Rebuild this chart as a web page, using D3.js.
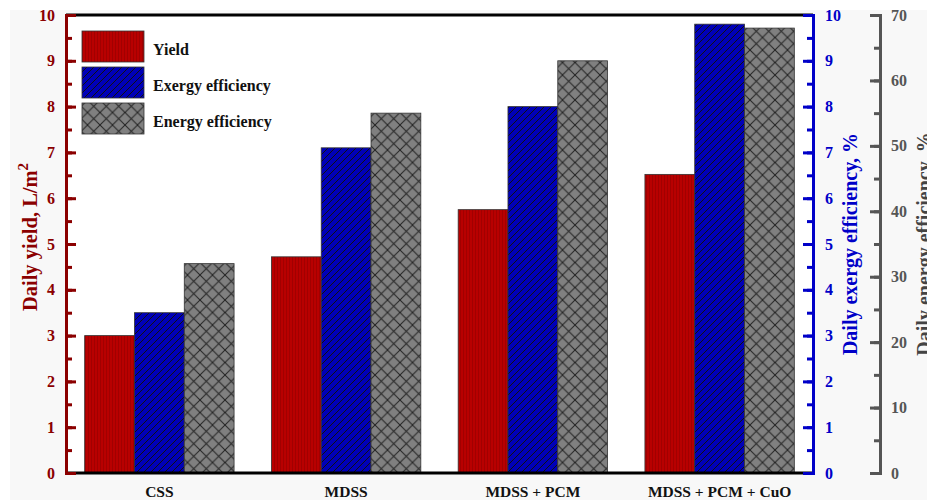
<!DOCTYPE html>
<html lang="en">
  <head>
    <meta charset="UTF-8" />
    <title>daily yield and efficiency</title>
    <style>
      body {
        margin: 0;
        background: #fff;
      }
      svg text {
        font-family: "Liberation Serif", "Times New Roman", serif;
        font-weight: bold;
      }
    </style>
  </head>
  <body>
    <div class="container"></div>

    <script src="https://cdn.jsdelivr.net/npm/d3@7"></script>
    <script>
      // data
      const categories = ["CSS", "MDSS", "MDSS + PCM", "MDSS + PCM + CuO"];
      const yieldVals = [3.0, 4.72, 5.75, 6.52]; // L/m2
      const exergyVals = [3.5, 7.1, 8.0, 9.8]; // %
      const energyVals = [32, 55, 63, 68]; // %
      const seriesNames = ["Yield", "Exergy efficiency", "Energy efficiency"];
      const yieldTicks = d3.range(0, 11, 1);
      const exergyTicks = d3.range(0, 11, 1);
      const energyTicks = d3.range(0, 71, 10);

      const W = 927,
        H = 500;
      const mLeft = 66,
        mRight = 813,
        mTop = 15,
        mBottom = 473;

      const svg = d3
        .select(".container")
        .append("svg")
        .attr("width", W)
        .attr("height", H);

      // background
      svg.append("rect").attr("x", 10).attr("y", 10).attr("width", W - 10).attr("height", H - 10).attr("fill", "#f8f8f8");
      svg.append("rect").attr("x", mLeft).attr("y", mTop).attr("width", mRight - mLeft).attr("height", mBottom - mTop).attr("fill", "#fff");

      // patterns
      const defs = svg.append("defs");
      const pRed = defs.append("pattern").attr("id", "pRed").attr("patternUnits", "userSpaceOnUse").attr("width", 3).attr("height", 3);
      pRed.append("rect").attr("width", 3).attr("height", 3).attr("fill", "#b80000");
      pRed.append("line").attr("x1", 1.5).attr("x2", 1.5).attr("y1", 0).attr("y2", 3).attr("stroke", "#9a0000").attr("stroke-width", 0.8);

      const pBlue = defs.append("pattern").attr("id", "pBlue").attr("patternUnits", "userSpaceOnUse").attr("width", 7).attr("height", 7);
      pBlue.append("rect").attr("width", 7).attr("height", 7).attr("fill", "#0000b8");
      pBlue.append("path").attr("d", "M0,7 L7,0 M-1,1 L1,-1 M6,8 L8,6").attr("stroke", "#111").attr("stroke-width", 1);

      const g = 12.5;
      const pGray = defs.append("pattern").attr("id", "pGray").attr("patternUnits", "userSpaceOnUse").attr("width", g).attr("height", g);
      pGray.append("rect").attr("width", g).attr("height", g).attr("fill", "#808080");
      pGray
        .append("path")
        .attr("d", `M0,0 L${g},${g} M0,${g} L${g},0`)
        .attr("stroke", "#222")
        .attr("stroke-width", 1);

      const fills = ["url(#pRed)", "url(#pBlue)", "url(#pGray)"];

      // scales
      const scX = d3.scaleBand().domain(categories).range([mLeft, mRight]).paddingInner(0.2).paddingOuter(0.1);
      const scSub = d3.scaleBand().domain([0, 1, 2]).range([0, scX.bandwidth()]);
      const scY1 = d3.scaleLinear().domain([0, 10]).range([mBottom, mTop]);
      const scY2 = d3.scaleLinear().domain([0, 10]).range([mBottom, mTop]);
      const scY3 = d3.scaleLinear().domain([0, 70]).range([mBottom, mTop]);
      const scales = [scY1, scY2, scY3];
      const series = [yieldVals, exergyVals, energyVals];

      // bars
      series.forEach((vals, s) => {
        svg
          .append("g")
          .selectAll("rect")
          .data(vals)
          .enter()
          .append("rect")
          .attr("x", (d, i) => scX(categories[i]) + scSub(s))
          .attr("width", scSub.bandwidth())
          .attr("y", (d) => scales[s](d))
          .attr("height", (d) => mBottom - scales[s](d))
          .attr("fill", fills[s])
          .attr("stroke", "#333")
          .attr("stroke-width", 0.8);
      });

      // top and bottom frame
      svg.append("line").attr("x1", mLeft).attr("x2", mRight).attr("y1", mTop).attr("y2", mTop).attr("stroke", "#000").attr("stroke-width", 3);
      svg.append("line").attr("x1", mLeft).attr("x2", mRight).attr("y1", mBottom).attr("y2", mBottom).attr("stroke", "#000").attr("stroke-width", 3);

      // axis helper
      function drawAxis(axisFn, scale, ticks, minorStep, x, color, pad) {
        const minor = d3.range(0, scale.domain()[1] + 1e-9, minorStep);
        svg
          .append("g")
          .attr("transform", `translate(${x},0)`)
          .call(axisFn(scale).tickValues(minor).tickSize(-6).tickSizeOuter(-10).tickFormat(""))
          .call((a) => a.selectAll("line").attr("stroke", color).attr("stroke-width", 3))
          .call((a) => a.select(".domain").attr("stroke", color).attr("stroke-width", 3));
        svg
          .append("g")
          .attr("transform", `translate(${x},0)`)
          .call(axisFn(scale).tickValues(ticks).tickSize(-10).tickSizeOuter(-10).tickPadding(pad))
          .call((a) => a.select(".domain").attr("stroke", color).attr("stroke-width", 3))
          .call((a) => a.selectAll("line").attr("stroke", color).attr("stroke-width", 3))
          .call((a) => a.selectAll("text").attr("fill", color).attr("font-size", 16).attr("font-family", null));
      }

      drawAxis(d3.axisLeft, scY1, yieldTicks, 0.5, mLeft, "#8b0000", 11);
      drawAxis(d3.axisRight, scY2, exergyTicks, 0.5, mRight, "#0000c8", 12);
      drawAxis(d3.axisRight, scY3, energyTicks, 5, 880, "#555555", 11);

      // category labels
      svg
        .append("g")
        .selectAll("text")
        .data(categories)
        .enter()
        .append("text")
        .attr("x", (d) => scX(d) + scX.bandwidth() / 2)
        .attr("y", 497)
        .attr("text-anchor", "middle")
        .attr("font-size", 15.5)
        .attr("fill", "#111")
        .text((d) => d);

      // axis titles
      const t1 = svg
        .append("text")
        .attr("transform", "translate(37,237) rotate(-90)")
        .attr("text-anchor", "middle")
        .attr("font-size", 20.5)
        .attr("fill", "#8b0000");
      t1.append("tspan").text("Daily yield,  L/m");
      t1.append("tspan").attr("dy", -9).attr("font-size", 15).text("2");

      svg
        .append("text")
        .attr("transform", "translate(857,244) rotate(-90)")
        .attr("text-anchor", "middle")
        .attr("font-size", 20)
        .attr("fill", "#0000c8")
        .text("Daily exergy efficiency, %");

      svg
        .append("text")
        .attr("transform", "translate(931,244) rotate(-90)")
        .attr("text-anchor", "middle")
        .attr("font-size", 20)
        .attr("fill", "#444")
        .text("Daily energy efficiency, %");

      // legend
      const leg = svg.append("g");
      seriesNames.forEach((name, i) => {
        const y = 31 + i * 36;
        leg.append("rect").attr("x", 82).attr("y", y).attr("width", 62).attr("height", 31).attr("fill", fills[i]).attr("stroke", "#333").attr("stroke-width", 0.8);
        leg.append("text").attr("x", 153).attr("y", y + 24).attr("font-size", 16).attr("fill", "#111").text(name);
      });
    </script>
  </body>
</html>
